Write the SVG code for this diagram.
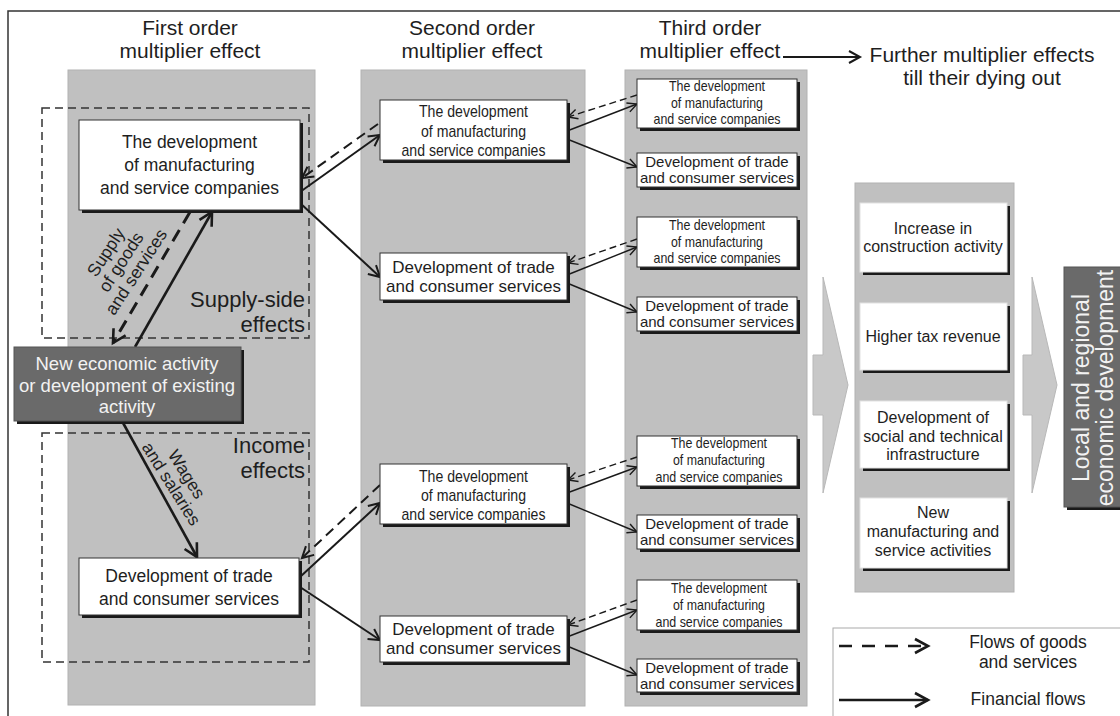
<svg xmlns="http://www.w3.org/2000/svg" width="1120" height="716" viewBox="0 0 1120 716">
<style>
.t{font-family:"Liberation Sans",Arial,sans-serif;fill:#1e1e1e;text-anchor:middle}
.ti{font-size:21px}
.panel{fill:#c0c0c0;stroke:#b2b2b2;stroke-width:1}
.bx{fill:#fff;stroke:#333;stroke-width:1}
.bx4{fill:#fff;stroke:#e2e2e2;stroke-width:1}
.sh{fill:#1a1a1a}
.dk{fill:#6a6a6a;stroke:#555;stroke-width:1}
.grp{fill:none;stroke:#333;stroke-width:1.5;stroke-dasharray:8 5}
.chev{fill:#c8c8c8;stroke:#b8b8b8;stroke-width:1}
.ln{fill:none;stroke:#1a1a1a}
.c1{stroke-width:2.6}
.d1{stroke-width:3;stroke-dasharray:13 8}
.c2{stroke-width:2}
.d2{stroke-width:2;stroke-dasharray:10 6}
.c3{stroke-width:1.4}
.d3{stroke-width:1.4;stroke-dasharray:7 4}
.f17{font-size:17.5px}
.f17b{font-size:17px}
.f15{font-size:15px}
.f14{font-size:14.5px}
.f16{font-size:16px}
.w{fill:#f2f2f2}
</style>
<defs>
<marker id="ab" markerUnits="userSpaceOnUse" markerWidth="18" markerHeight="18" viewBox="0 0 18 18" refX="15" refY="9" orient="auto">
<path d="M2,2 L15,9 L2,16" fill="none" stroke="#1a1a1a" stroke-width="2.6"/>
</marker>
<marker id="am" markerUnits="userSpaceOnUse" markerWidth="15" markerHeight="15" viewBox="0 0 15 15" refX="12.5" refY="7.5" orient="auto">
<path d="M1.5,1.5 L12.5,7.5 L1.5,13.5" fill="none" stroke="#1a1a1a" stroke-width="2"/>
</marker>
<marker id="as" markerUnits="userSpaceOnUse" markerWidth="12" markerHeight="12" viewBox="0 0 12 12" refX="10.5" refY="6" orient="auto">
<path d="M1,1.2 L10.5,6 L1,10.8" fill="none" stroke="#1a1a1a" stroke-width="1.4"/>
</marker>
</defs>

<rect width="1120" height="716" fill="#fff"/>
<path d="M8,716 V11 H1120" fill="none" stroke="#333" stroke-width="1.5"/>

<g id="panels">
<rect class="panel" x="68" y="70" width="247" height="635"/>
<rect class="panel" x="361" y="70" width="224" height="636"/>
<rect class="panel" x="625" y="70" width="182" height="636"/>
<rect class="panel" x="855" y="183" width="159" height="409"/>
<path class="chev" d="M813,355 H823 V277 L848,385 L823,493 V415 H813 Z"/>
<path class="chev" d="M1023,355 H1032 V277 L1057,385 L1032,493 V415 H1023 Z"/>
</g>

<g id="titles" class="t ti">
<text x="190" y="35">First order</text>
<text x="190" y="58">multiplier effect</text>
<text x="472" y="35">Second order</text>
<text x="472" y="58">multiplier effect</text>
<text x="710" y="35">Third order</text>
<text x="710" y="58">multiplier effect</text>
<text x="982" y="62">Further multiplier effects</text>
<text x="982" y="85">till their dying out</text>
</g>

<g id="supply-side-effects">
<rect class="grp" x="42" y="108" width="267" height="230"/>
<text class="t" style="font-size:22px;text-anchor:end" x="305" y="307">Supply-side</text>
<text class="t" style="font-size:22px;text-anchor:end" x="305" y="332">effects</text>
</g>
<g id="income-effects">
<rect class="grp" x="42" y="433" width="267" height="229"/>
<text class="t" style="font-size:22px;text-anchor:end" x="305" y="453">Income</text>
<text class="t" style="font-size:22px;text-anchor:end" x="305" y="478">effects</text>
</g>

<g id="connectors">
<path class="ln d1" d="M190,212 L113,343" marker-end="url(#ab)"/>
<path class="ln c1" d="M135,347 L212,212" marker-end="url(#ab)"/>
<path class="ln c1" d="M122,421 L197,557" marker-end="url(#ab)"/>
<path class="ln c2" d="M300,192 L380,135" marker-end="url(#am)"/>
<path class="ln d2" d="M378,124 L302,178" marker-end="url(#am)"/>
<path class="ln c2" d="M300,203 L380,277" marker-end="url(#am)"/>
<path class="ln c2" d="M300,577 L380,503" marker-end="url(#am)"/>
<path class="ln d2" d="M380,485 L302,558" marker-end="url(#am)"/>
<path class="ln c2" d="M300,587 L380,640" marker-end="url(#am)"/>
<path class="ln c3" d="M567,131 L637,104" marker-end="url(#as)"/>
<path class="ln d3" d="M637,95 L568,117" marker-end="url(#as)"/>
<path class="ln c3" d="M567,139 L637,167" marker-end="url(#as)"/>
<path class="ln c3" d="M567,275 L637,247" marker-end="url(#as)"/>
<path class="ln d3" d="M637,239 L568,263" marker-end="url(#as)"/>
<path class="ln c3" d="M567,283 L637,312" marker-end="url(#as)"/>
<path class="ln c3" d="M567,493 L637,467" marker-end="url(#as)"/>
<path class="ln d3" d="M637,457 L568,480" marker-end="url(#as)"/>
<path class="ln c3" d="M567,503 L637,532" marker-end="url(#as)"/>
<path class="ln c3" d="M567,637 L637,610" marker-end="url(#as)"/>
<path class="ln d3" d="M637,600 L568,625" marker-end="url(#as)"/>
<path class="ln c3" d="M567,646 L637,675" marker-end="url(#as)"/>
<path class="ln c2" d="M783,57 L860,57" marker-end="url(#am)"/>
<g class="t" style="font-size:17.5px">
<g transform="translate(121,262) rotate(-57)">
<text x="0" y="-12">Supply</text>
<text x="0" y="6">of goods</text>
<text x="0" y="24">and services</text>
</g>
<g transform="translate(179,479) rotate(58)">
<text x="0" y="-3">Wages</text>
<text x="0" y="15">and salaries</text>
</g>
</g>
</g>

<g id="new-activity">
<rect class="sh" x="17" y="350" width="227" height="74"/>
<rect class="dk" x="14" y="347" width="227" height="74"/>
<g class="t w" style="font-size:18.5px">
<text class="w" x="127" y="370">New economic activity</text>
<text class="w" x="127" y="392">or development of existing</text>
<text class="w" x="127" y="413">activity</text>
</g>
</g>

<g id="n1-manufacturing">
<rect class="sh" x="82" y="123" width="221" height="90"/>
<rect class="bx" x="79" y="120" width="221" height="90"/>
<g class="t f17">
<text x="189.5" y="148">The development</text>
<text x="189.5" y="171">of manufacturing</text>
<text x="189.5" y="194">and service companies</text>
</g>
</g>
<g id="n1-trade">
<rect class="sh" x="82" y="561" width="220" height="57"/>
<rect class="bx" x="79" y="558" width="220" height="57"/>
<g class="t f17">
<text x="189" y="582">Development of trade</text>
<text x="189" y="605">and consumer services</text>
</g>
</g>

<g id="n2a">
<rect class="sh" x="383" y="103" width="187" height="60"/>
<rect class="bx" x="380" y="100" width="187" height="60"/>
<g class="t f17b">
<text x="473.5" y="117" textLength="109" lengthAdjust="spacingAndGlyphs">The development</text>
<text x="473.5" y="137" textLength="105" lengthAdjust="spacingAndGlyphs">of manufacturing</text>
<text x="473.5" y="156" textLength="144" lengthAdjust="spacingAndGlyphs">and service companies</text>
</g>
</g>
<g id="n2b">
<rect class="sh" x="383" y="256" width="187" height="47"/>
<rect class="bx" x="380" y="253" width="187" height="47"/>
<g class="t f17b">
<text x="473.5" y="273">Development of trade</text>
<text x="473.5" y="292">and consumer services</text>
</g>
</g>
<g id="n2c">
<rect class="sh" x="383" y="467" width="187" height="60"/>
<rect class="bx" x="380" y="464" width="187" height="60"/>
<g class="t f17b">
<text x="473.5" y="482" textLength="109" lengthAdjust="spacingAndGlyphs">The development</text>
<text x="473.5" y="501" textLength="105" lengthAdjust="spacingAndGlyphs">of manufacturing</text>
<text x="473.5" y="520" textLength="144" lengthAdjust="spacingAndGlyphs">and service companies</text>
</g>
</g>
<g id="n2d">
<rect class="sh" x="383" y="619" width="187" height="46"/>
<rect class="bx" x="380" y="616" width="187" height="46"/>
<g class="t f17b">
<text x="473.5" y="635">Development of trade</text>
<text x="473.5" y="654">and consumer services</text>
</g>
</g>

<g id="n3-1">
<rect class="sh" x="640" y="82" width="160" height="49"/>
<rect class="bx" x="637" y="79" width="160" height="49"/>
<g class="t f14">
<text x="717" y="91" textLength="96" lengthAdjust="spacingAndGlyphs">The development</text>
<text x="717" y="108" textLength="92" lengthAdjust="spacingAndGlyphs">of manufacturing</text>
<text x="717" y="124" textLength="127" lengthAdjust="spacingAndGlyphs">and service companies</text>
</g>
</g>
<g id="n3-2">
<rect class="sh" x="640" y="156" width="160" height="34"/>
<rect class="bx" x="637" y="153" width="160" height="34"/>
<g class="t f15">
<text x="717" y="167">Development of trade</text>
<text x="717" y="183">and consumer services</text>
</g>
</g>
<g id="n3-3">
<rect class="sh" x="640" y="220" width="160" height="50"/>
<rect class="bx" x="637" y="217" width="160" height="50"/>
<g class="t f14">
<text x="717" y="230" textLength="96" lengthAdjust="spacingAndGlyphs">The development</text>
<text x="717" y="247" textLength="92" lengthAdjust="spacingAndGlyphs">of manufacturing</text>
<text x="717" y="263" textLength="127" lengthAdjust="spacingAndGlyphs">and service companies</text>
</g>
</g>
<g id="n3-4">
<rect class="sh" x="640" y="300" width="160" height="34"/>
<rect class="bx" x="637" y="297" width="160" height="34"/>
<g class="t f15">
<text x="717" y="311">Development of trade</text>
<text x="717" y="327">and consumer services</text>
</g>
</g>
<g id="n3-5">
<rect class="sh" x="640" y="439" width="160" height="50"/>
<rect class="bx" x="637" y="436" width="160" height="50"/>
<g class="t f14">
<text x="719" y="448" textLength="96" lengthAdjust="spacingAndGlyphs">The development</text>
<text x="719" y="465" textLength="92" lengthAdjust="spacingAndGlyphs">of manufacturing</text>
<text x="719" y="482" textLength="127" lengthAdjust="spacingAndGlyphs">and service companies</text>
</g>
</g>
<g id="n3-6">
<rect class="sh" x="640" y="518" width="160" height="34"/>
<rect class="bx" x="637" y="515" width="160" height="34"/>
<g class="t f15">
<text x="717" y="529">Development of trade</text>
<text x="717" y="545">and consumer services</text>
</g>
</g>
<g id="n3-7">
<rect class="sh" x="640" y="583" width="160" height="50"/>
<rect class="bx" x="637" y="580" width="160" height="50"/>
<g class="t f14">
<text x="719" y="593" textLength="96" lengthAdjust="spacingAndGlyphs">The development</text>
<text x="719" y="610" textLength="92" lengthAdjust="spacingAndGlyphs">of manufacturing</text>
<text x="719" y="627" textLength="127" lengthAdjust="spacingAndGlyphs">and service companies</text>
</g>
</g>
<g id="n3-8">
<rect class="sh" x="640" y="662" width="160" height="33"/>
<rect class="bx" x="637" y="659" width="160" height="33"/>
<g class="t f15">
<text x="717" y="673">Development of trade</text>
<text x="717" y="689">and consumer services</text>
</g>
</g>

<g id="r1">
<rect class="sh" x="863" y="206" width="147" height="69"/>
<rect class="bx4" x="860" y="203" width="147" height="69"/>
<g class="t f16">
<text x="933" y="234">Increase in</text>
<text x="933" y="252">construction activity</text>
</g>
</g>
<g id="r2">
<rect class="sh" x="863" y="306" width="147" height="67"/>
<rect class="bx4" x="860" y="303" width="147" height="67"/>
<text class="t f16" x="933" y="342">Higher tax revenue</text>
</g>
<g id="r3">
<rect class="sh" x="863" y="404" width="147" height="67"/>
<rect class="bx4" x="860" y="401" width="147" height="67"/>
<g class="t f16">
<text x="933" y="423">Development of</text>
<text x="933" y="442">social and technical</text>
<text x="933" y="460">infrastructure</text>
</g>
</g>
<g id="r4">
<rect class="sh" x="863" y="501" width="147" height="70"/>
<rect class="bx4" x="860" y="498" width="147" height="70"/>
<g class="t f16">
<text x="933" y="518">New</text>
<text x="933" y="537">manufacturing and</text>
<text x="933" y="556">service activities</text>
</g>
</g>

<g id="local-regional">
<rect class="sh" x="1067" y="270" width="60" height="240"/>
<rect class="dk" x="1064" y="267" width="60" height="240"/>
<g class="t" style="font-size:23px" transform="translate(0,388) rotate(-90)">
<text class="w" x="0" y="1089">Local and regional</text>
<text class="w" x="0" y="1113">economic development</text>
</g>
</g>

<g id="legend">
<rect x="833" y="628" width="300" height="100" fill="#fff" stroke="#aaa" stroke-width="1"/>
<path d="M839,646 L928,646" fill="none" stroke="#1a1a1a" stroke-width="2.6" stroke-dasharray="13 10" marker-end="url(#ab)"/>
<path d="M839,700 L928,700" fill="none" stroke="#1a1a1a" stroke-width="2.6" marker-end="url(#ab)"/>
<g class="t f17">
<text x="1028" y="648">Flows of goods</text>
<text x="1028" y="668">and services</text>
<text x="1028" y="705">Financial flows</text>
</g>
</g>
</svg>
